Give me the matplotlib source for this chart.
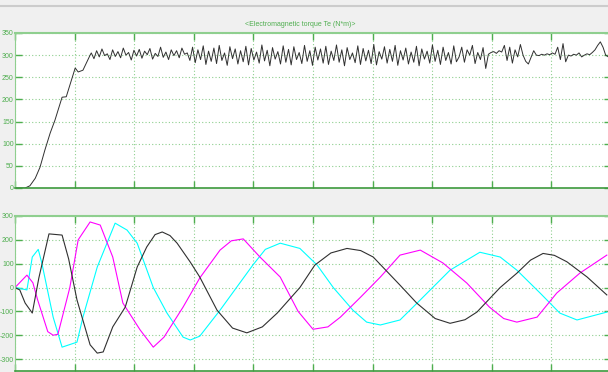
import numpy as np
import matplotlib.pyplot as plt
from matplotlib.lines import Line2D

plt.rcParams['axes.unicode_minus'] = False

# ---- electromagnetic torque Te (N*m) ----
# start-up part
te_t0 = [0.0, 0.017, 0.025, 0.034, 0.042, 0.050, 0.059, 0.067, 0.079, 0.086,
         0.092, 0.101, 0.106, 0.114, 0.126]
te_v0 = [0, 0, 5, 22, 47, 85, 124, 153, 205, 206, 232, 271, 262, 266, 300]

# steady-state ripple, samples evenly spaced from t=0.128 to t=1.0
te_ripple = [
    305, 292, 310, 296, 314, 299, 303, 290, 312, 297,
    308, 294, 316, 300, 306, 289, 311, 298, 313, 293,
    309, 301, 315, 291, 304, 297, 318, 295, 307, 290,
    312, 299, 310, 294, 316, 302, 305, 288,
    318, 283, 312, 290, 321, 279, 309, 286, 316, 281,
    322, 288, 305, 277, 319, 292, 314, 280, 310, 285,
    320, 278, 315, 289, 307, 282, 323, 287, 311, 276,
    317, 291, 308, 280, 321, 284, 313, 278, 319, 290,
    306, 281, 322, 286, 310, 277, 318, 289, 314, 282,
    320, 279, 309, 288, 323, 284, 312, 276, 317, 290,
    305, 283, 321, 279, 315, 287, 311, 281, 324, 278,
    308, 291, 319, 282, 313, 286, 322, 277, 310, 289,
    316, 280, 307, 284, 320, 276, 314, 291, 309, 282,
    323, 286, 311, 279, 318, 288, 306, 280, 321, 285,
    296, 318, 284, 312, 300, 322, 281, 306, 290, 317,
    270, 302, 306, 308, 304, 310, 307,
    322, 288, 318, 282, 312, 296,
    324, 300, 286, 280, 295,
    310, 300, 299, 302, 300, 303, 301, 305, 302,
    318, 290, 326, 285, 300, 298,
    302, 300, 305, 296, 300, 303, 301, 306, 312, 322, 330, 318, 300, 296, 308,
]

# ---- stator currents (A) ----
ia_t = [0.0, 0.008, 0.017, 0.029, 0.040, 0.057, 0.079, 0.090, 0.104, 0.126,
        0.138, 0.148, 0.164, 0.185, 0.205, 0.221, 0.235, 0.247, 0.260, 0.272,
        0.294, 0.310, 0.339, 0.365, 0.389, 0.415, 0.440, 0.478, 0.503, 0.530,
        0.557, 0.580, 0.601, 0.646, 0.674, 0.705, 0.730, 0.755, 0.775, 0.814,
        0.842, 0.865, 0.886, 0.905, 0.926, 0.960, 0.993]
ia_v = [0, -10, -65, -107, 40, 225, 220, 120, -52, -240,
        -275, -270, -165, -82, 86, 170, 222, 233, 218, 186,
        107, 44, -95, -170, -190, -165, -107, 0, 94, 145,
        164, 155, 128, 10, -65, -130, -150, -135, -103, 0,
        60, 115, 143, 135, 108, 44, -31]

ib_t = [0.0, 0.020, 0.030, 0.038, 0.055, 0.064, 0.072, 0.092, 0.106, 0.126,
        0.143, 0.164, 0.181, 0.210, 0.232, 0.250, 0.282, 0.310, 0.344, 0.363,
        0.383, 0.411, 0.445, 0.475, 0.500, 0.525, 0.546, 0.580, 0.613, 0.646,
        0.680, 0.718, 0.758, 0.796, 0.820, 0.842, 0.876, 0.909, 0.948, 0.993]
ib_v = [0, 52, 20, -52, -185, -200, -196, 0, 200, 275,
        262, 128, -65, -178, -250, -208, -82, 40, 157, 196,
        204, 128, 44, -100, -175, -165, -124, -40, 44, 136,
        157, 103, 19, -82, -130, -145, -124, -23, 61, 136]

ic_t = [0.0, 0.020, 0.029, 0.039, 0.045, 0.064, 0.079, 0.104, 0.114, 0.138,
        0.168, 0.188, 0.205, 0.232, 0.255, 0.282, 0.294, 0.310, 0.344, 0.399,
        0.420, 0.445, 0.478, 0.507, 0.534, 0.567, 0.590, 0.613, 0.646, 0.680,
        0.730, 0.780, 0.814, 0.842, 0.881, 0.914, 0.943, 0.993]
ic_v = [0, -10, 128, 160, 103, -124, -250, -229, -124, 86,
        270, 241, 186, 0, -107, -208, -220, -204, -95, 94,
        160, 186, 164, 94, 0, -95, -145, -157, -136, -52,
        73, 148, 128, 73, -23, -107, -136, -103]

green = '#4fae4f'
lgreen = '#8fcf8f'

fig = plt.figure(figsize=(6.08, 3.72), dpi=100, facecolor='#f0f0f0')
fig.add_artist(Line2D([0, 1], [1 - 5.5 / 372, 1 - 5.5 / 372], color='#cccccc', lw=1.5))
fig.text(300 / 608, 1 - 25 / 372, '<Electromagnetic torque Te (N*m)>', color=green,
         fontsize=5, ha='center', va='center', family='Liberation Sans')

ax1 = fig.add_axes([15 / 608, 1 - 188 / 372, 596 / 608, 155 / 372])
ax2 = fig.add_axes([15 / 608, 1 - 371 / 372, 596 / 608, 155 / 372])

te_t = np.concatenate([te_t0, np.linspace(0.128, 1.0, len(te_ripple))])
te_v = np.concatenate([te_v0, te_ripple])
ax1.plot(te_t, te_v, color='#303030', lw=0.7)
ax1.set_ylim(0, 350)
ax1.set_yticks(np.arange(0, 351, 50))

ax2.plot(ic_t, ic_v, color='#00ffff', lw=0.8)
ax2.plot(ib_t, ib_v, color='#ff00ff', lw=0.8)
ax2.plot(ia_t, ia_v, color='#303030', lw=0.8)
ax2.set_ylim(-350, 300)
ax2.set_yticks(np.arange(-300, 301, 100))

for ax in (ax1, ax2):
    ax.set_xlim(0, 1)
    ax.set_xticks(np.arange(0, 1.01, 0.1))
    ax.set_xticklabels([])
    ax.set_facecolor('white')
    ax.grid(True, color=lgreen, lw=0.8, linestyle=(0, (1, 2)))
    ax.tick_params(axis='both', direction='in', length=5, color=green, width=1,
                   top=True, right=True, labelsize=5, labelcolor=green, pad=1)
    for lab in ax.get_yticklabels():
        lab.set_family('Liberation Sans')
    ax.spines['top'].set_color(lgreen)
    ax.spines['top'].set_linewidth(1.5)
    ax.spines['bottom'].set_color('#3d9a3d')
    ax.spines['bottom'].set_linewidth(1.2)
    ax.spines['left'].set_color(lgreen)
    ax.spines['right'].set_color(lgreen)

fig.savefig('out.png', dpi=100, facecolor=fig.get_facecolor())
